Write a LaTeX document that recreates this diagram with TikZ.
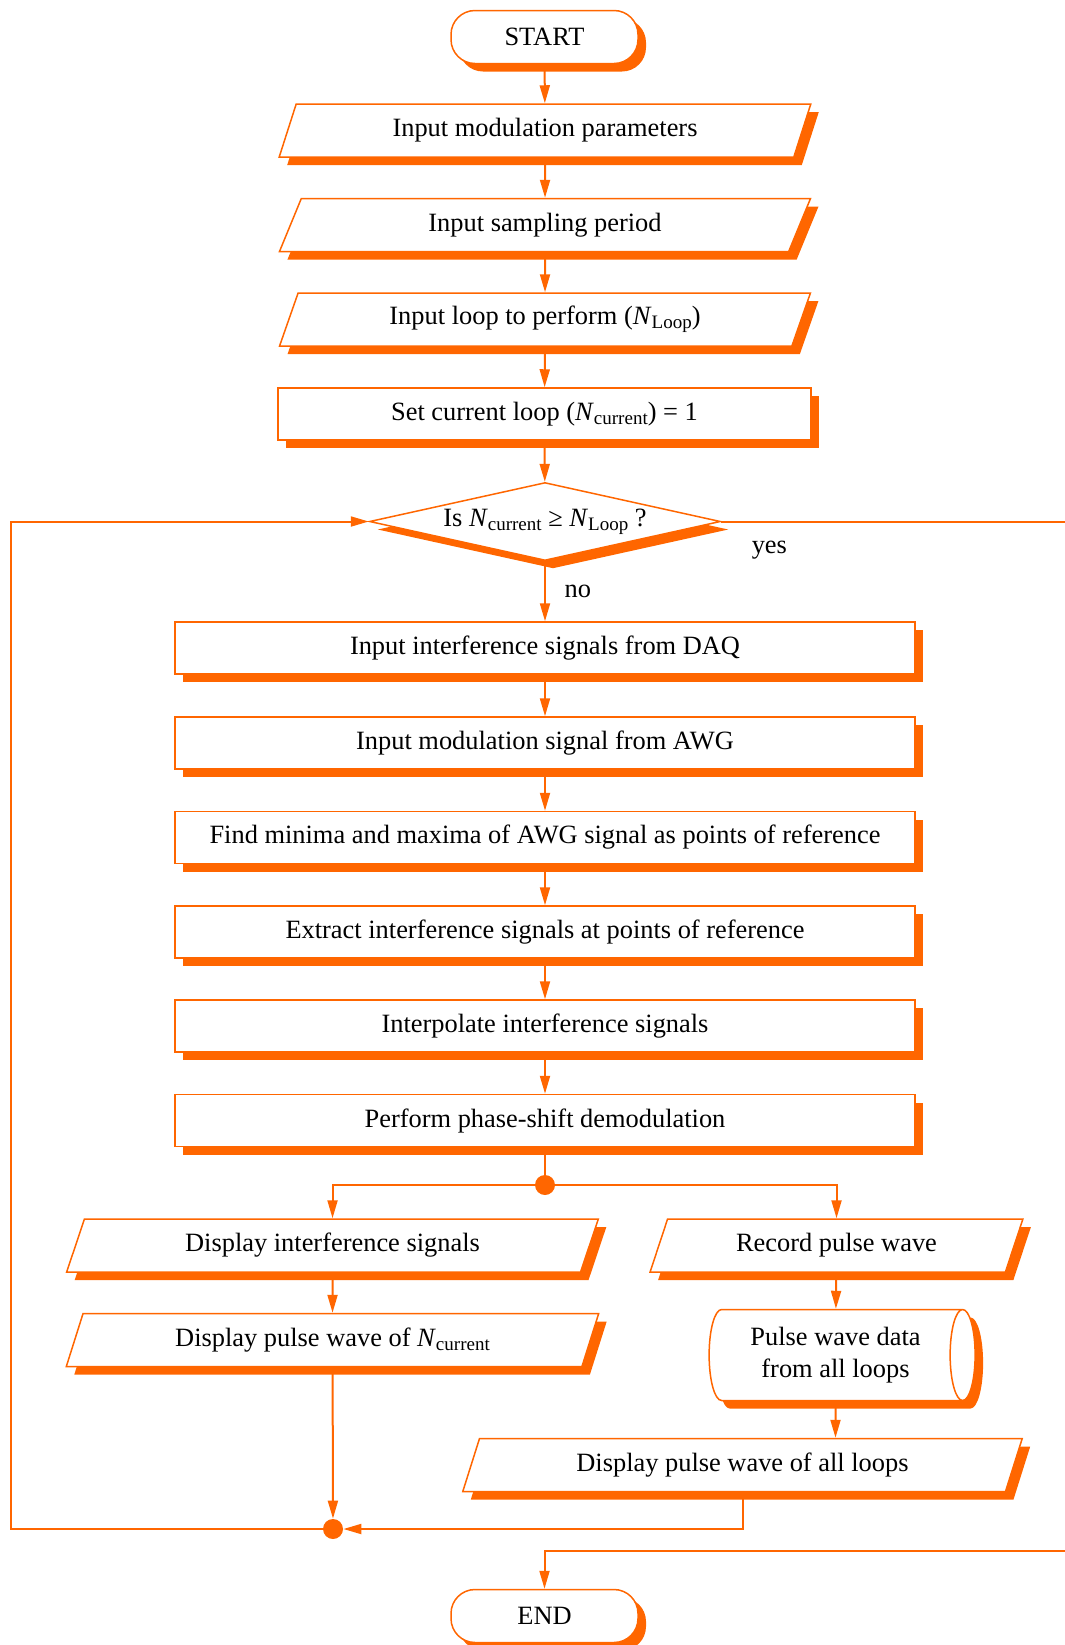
\documentclass[tikz,border=0pt]{standalone}
\usepackage{fontspec}
\setmainfont{Liberation Serif}
\usetikzlibrary{shapes.geometric, arrows.meta, positioning, shadows}

\definecolor{flow}{HTML}{FF6600}
\newcommand{\lowtext}[1]{\raisebox{-0.35ex}{\fontsize{9.5}{10}\selectfont #1}}
\newcommand{\Ncur}{\textit{N}\lowtext{current}}
\newcommand{\Nloop}{\textit{N}\lowtext{Loop}}

\begin{document}
\begin{tikzpicture}[x=0.5pt, y=-0.5pt,
  font=\fontsize{13.2}{15.8}\selectfont,
  box/.style={draw=flow, line width=0.75pt, fill=white, inner sep=0pt,
    drop shadow={shadow xshift=4pt, shadow yshift=-4pt, fill=flow, opacity=1}},
  term/.style={box, rectangle, rounded corners=12pt, minimum width=93.5pt, minimum height=26.5pt},
  io/.style={box, trapezium, trapezium left angle=66.5, trapezium right angle=113.5,
    trapezium stretches=true, minimum height=26.5pt},
  proc/.style={box, rectangle, minimum height=26pt},
  decide/.style={box, diamond, shape aspect=4.5, minimum width=175.5pt, minimum height=39pt},
  % cylinder: height runs along the axis, width across it
  store/.style={box, cylinder, aspect=0.45, minimum height=133pt, minimum width=45.5pt, align=center},
  dot/.style={circle, fill=flow, inner sep=0pt, minimum size=10pt},
  line/.style={draw=flow, line width=1pt},
  arr/.style={line, -{Triangle[length=9pt, width=5pt]}}]
\useasboundingbox (0,0) rectangle (1065,1645);

% Set-up steps
\node[term] (start) at (544.5,37) {START};
\node[io, minimum width=266pt] (modpar) at (545,130.5) {Input modulation parameters};
\node[io, minimum width=266pt] (samp) at (545,225) {Input sampling period};
\node[io, minimum width=266pt] (nloop) at (545,319.5) {Input loop to perform (\Nloop)};
\node[proc, minimum width=266.5pt] (setcur) at (544.5,414) {Set current loop (\Ncur) = 1};
\node[decide] (check) at (545,521.5) {Is \Ncur{} ≥ \Nloop{} ?};

% Loop body
\node[proc, minimum width=370pt] (daq) at (545,648) {Input interference signals from DAQ};
\node[proc, minimum width=370pt] (awg) at (545,743) {Input modulation signal from AWG};
\node[proc, minimum width=370pt] (minmax) at (545,837.5) {Find minima and maxima of AWG signal as points of reference};
\node[proc, minimum width=370pt] (extract) at (545,932) {Extract interference signals at points of reference};
\node[proc, minimum width=370pt] (interp) at (545,1026) {Interpolate interference signals};
\node[proc, minimum width=370pt] (demod) at (545,1120.5) {Perform phase-shift demodulation};

% Output branches
\node[dot] (split) at (545,1185) {};
\node[io, minimum width=266.5pt] (dispint) at (332.5,1245.5) {Display interference signals};
\node[io, minimum width=266.5pt] (dispcur) at (332.5,1340) {Display pulse wave of \Ncur};
\node[io, minimum width=186.5pt] (record) at (836.5,1245.5) {Record pulse wave};
\node[store] (data) at (835.5,1355) {Pulse wave data\\from all loops};
\node[io, minimum width=280.5pt] (dispall) at (742.5,1465) {Display pulse wave of all loops};
\node[dot] (join) at (333,1529) {};

\node[term] (end) at (544.5,1616) {END};

% Free ends at the right edge and the left return path
\coordinate (yesout) at (1065,521.5);
\coordinate (endin) at (1065,1551);
\coordinate (back) at (10.5,1529);

% Connectors
\draw[arr] (start) -- (modpar);
\draw[arr] (modpar) -- (samp);
\draw[arr] (samp) -- (nloop);
\draw[arr] (nloop) -- (setcur);
\draw[arr] (setcur) -- (check);
\draw[arr] (check.south) -- node[right=6pt] {no} (daq);
\draw[line] (check.east) -- node[pos=0.14, below=6pt] {yes} (yesout);
\draw[arr] (daq) -- (awg);
\draw[arr] (awg) -- (minmax);
\draw[arr] (minmax) -- (extract);
\draw[arr] (extract) -- (interp);
\draw[arr] (interp) -- (demod);
\draw[line] (demod) -- (split);
\draw[arr] (split) -| (dispint.north);
\draw[arr] (split) -| (record.north);
\draw[arr] (dispint) -- (dispcur);
\draw[arr] (dispcur) -- (join);
\draw[arr] (record) -- (data);
\draw[arr] (data) -- (dispall.north -| data);
\draw[arr] (dispall.south) |- (join);
\draw[arr] (join) -- (back) |- (check.west);
\draw[arr] (endin) -| (end);
\end{tikzpicture}
\end{document}
